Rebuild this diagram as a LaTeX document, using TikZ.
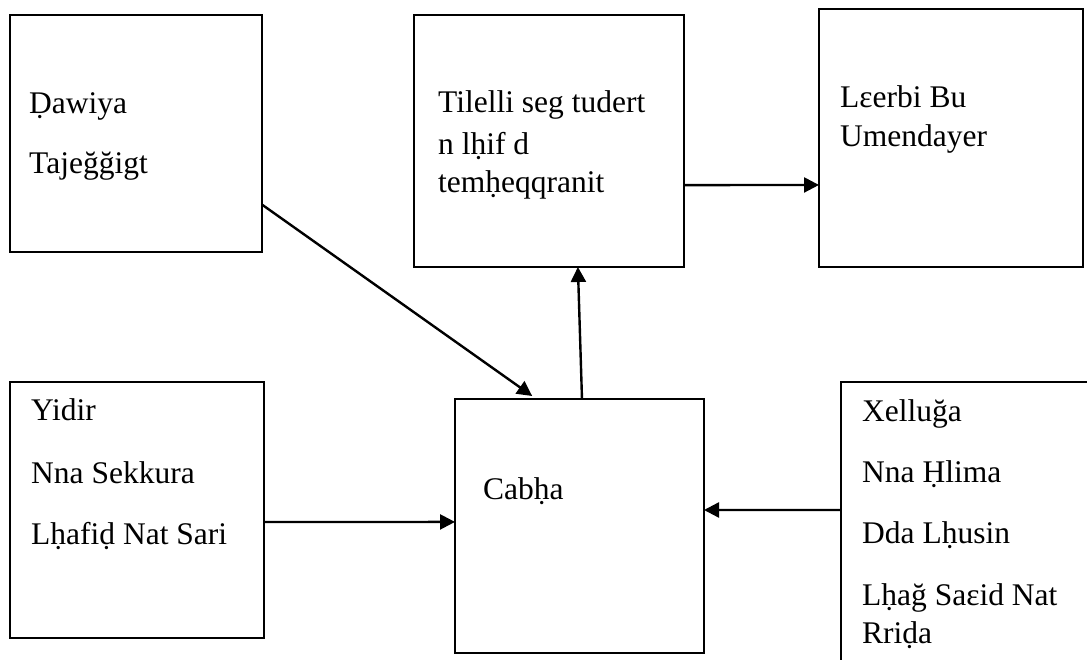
\documentclass[tikz,border=0pt]{standalone}
\usepackage{fontspec}
\setmainfont{Liberation Serif}
\usetikzlibrary{arrows.meta,calc}
\begin{document}
\begin{tikzpicture}[x=1pt,y=-1pt,
  box/.style={draw, line width=2.2pt, inner sep=0pt, outer sep=0pt},
  lbl/.style={anchor=base west, inner sep=0pt, font=\fontsize{31.5}{37}\selectfont},
  arr/.style={line width=2.4pt, -{Triangle[length=15pt,width=15pt]}}]
\useasboundingbox (0,0) rectangle (1087,660);
\clip (0,0) rectangle (1087,660);
% boxes
\node[box, minimum width=252pt, minimum height=237pt] (b1) at (136,133.5) {};
\node[box, minimum width=270pt, minimum height=252pt] (b2) at (549,141) {};
\node[box, minimum width=264pt, minimum height=258pt] (b3) at (951,138) {};
\node[box, minimum width=254pt, minimum height=256pt] (b4) at (137,510) {};
\node[box, minimum width=249pt, minimum height=254pt] (b5) at (579.5,526) {};
\node[box, minimum width=259pt, minimum height=298pt] (b6) at (970.5,531) {};
% texts
\node[lbl] (t1a) at (29,114) {Ḍawiya};
\node[lbl] (t1b) at (29,174) {Tajeğğigt};
\node[lbl] (t2a) at (438,113) {Tilelli seg tudert};
\node[lbl] (t2b) at (438,155) {n lḥif d};
\node[lbl] (t2c) at (438,193) {temḥeqqranit};
\node[lbl] (t3a) at (840,108) {Lɛerbi Bu};
\node[lbl] (t3b) at (840,147) {Umendayer};
\node[lbl] (t4a) at (31,420) {Yidir};
\node[lbl] (t4b) at (31,483) {Nna Sekkura};
\node[lbl] (t4c) at (31,544) {Lḥafiḍ Nat Sari};
\node[lbl] (t5a) at (483,499) {Cabḥa};
\node[lbl] (t6a) at (862,421) {Xelluğa};
\node[lbl] (t6b) at (862,482) {Nna Ḥlima};
\node[lbl] (t6c) at (862,543) {Dda Lḥusin};
\node[lbl] (t6d) at (862,605) {Lḥağ Saɛid Nat};
\node[lbl] (t6e) at (862,643) {Rriḍa};
% arrows
\draw[arr] ($(b1.north east)!0.80!(b1.south east)$) -- ($(b5.north west)!0.31!(b5.north east)+(0,-3)$);
\draw[arr] ($(b5.north west)!0.51!(b5.north east)$) -- ($(b2.south west)!0.607!(b2.south east)$);
\draw[arr] ($(b2.north east)!0.675!(b2.south east)$) -- ($(b3.north west)!0.682!(b3.south west)$);
\draw[arr] ($(b4.north east)!0.547!(b4.south east)$) -- ($(b5.north west)!0.484!(b5.south west)$);
\draw[arr] ($(b6.north west)+(0,128)$) -- ($(b5.north east)!0.437!(b5.south east)$);
\end{tikzpicture}
\end{document}
